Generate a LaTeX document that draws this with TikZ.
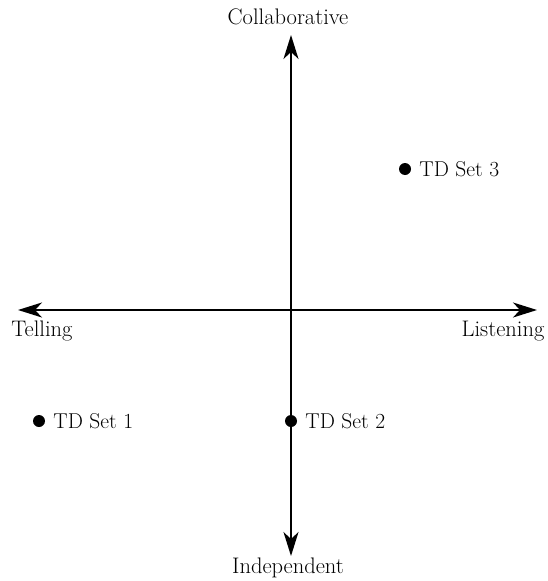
\documentclass[tikz,border=0pt]{standalone}
\usetikzlibrary{arrows.meta}
\begin{document}
\begin{tikzpicture}[x=1pt,y=-1pt,
  axis/.style={line width=1.8pt,-{Stealth[length=24pt,width=15pt,inset=7pt]}},
  lbl/.style={font=\fontsize{22.5}{26}\selectfont,inner sep=0pt},
  dlbl/.style={font=\fontsize{21.5}{25}\selectfont,inner sep=0pt,anchor=west},
  dot/.style={circle,fill=black,minimum size=12pt,inner sep=0pt}]
\useasboundingbox (0,0) rectangle (548,581);
\coordinate (O) at (291,310);
\coordinate (T) at (291,35);
\coordinate (B) at (291,556);
\coordinate (Lf) at (18,310);
\coordinate (Rt) at (537,310);
\draw[axis] (O) -- (T);
\draw[axis] (O) -- (B);
\draw[axis] (O) -- (Lf);
\draw[axis] (O) -- (Rt);
\node[lbl] (col) at (288,17) {Collaborative};
\node[lbl] (ind) at (288,568) {Independent};
\node[lbl] (tel) at (42,331) {Telling};
\node[lbl] (lis) at (503,331) {Listening};
\node[dot] (d3) at (405,169) {};
\node[dot] (d1) at (39,421) {};
\node[dot] (d2) at (291,421) {};
\node[dlbl] (t3) at ([xshift=8pt]d3.east) {TD Set 3};
\node[dlbl] (t1) at ([xshift=8pt]d1.east) {TD Set 1};
\node[dlbl] (t2) at ([xshift=8pt]d2.east) {TD Set 2};
\end{tikzpicture}
\end{document}
